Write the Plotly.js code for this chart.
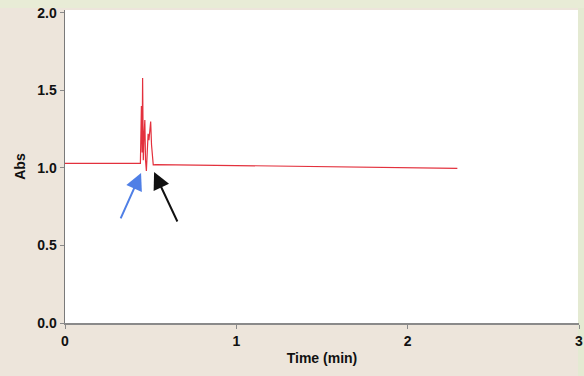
<!DOCTYPE html>
<html>
<head>
<meta charset="utf-8">
<script src="https://cdn.plot.ly/plotly-3.0.1.min.js"></script>
<style>html,body{margin:0;padding:0;background:#ede5db;}#chart{width:584px;height:376px;}</style>
</head>
<body>
<div id="chart"></div>
<script>
// Chromatogram: time (min) vs absorbance
const timeMin = [0.000, 0.300, 0.430, 0.440, 0.446, 0.450, 0.453, 0.457, 0.462, 0.466, 0.470, 0.475, 0.480, 0.485, 0.490, 0.495, 0.500, 0.505, 0.510, 0.515, 0.530, 0.800, 1.200, 1.600, 2.000, 2.290];
const absVals = [1.030, 1.028, 1.027, 1.030, 1.400, 1.100, 1.580, 1.050, 1.220, 1.310, 1.050, 0.980, 1.100, 1.220, 1.180, 1.280, 1.300, 1.150, 1.050, 1.020, 1.022, 1.018, 1.012, 1.006, 1.002, 0.998];

const xTicks = [0, 1, 2, 3];
const xTickLabels = ['0', '1', '2', '3'];
const yTicks = [0.0, 0.5, 1.0, 1.5, 2.0];
const yTickLabels = ['0.0', '0.5', '1.0', '1.5', '2.0'];

// arrows: [tipTime, tipAbs, tailTime, tailAbs]
const blueArrow = [0.444, 0.968, 0.321, 0.665];
const blackArrow = [0.520, 0.974, 0.660, 0.645];

const fam = 'Liberation Sans, Arial, sans-serif';
const bold = s => '<b>' + s + '</b>';

const trace = {
  x: timeMin, y: absVals, type: 'scatter', mode: 'lines',
  line: {color: '#e3313d', width: 1.2}, hoverinfo: 'skip'
};

function arrow(a, color) {
  return {
    x: a[0], y: a[1], xref: 'x', yref: 'y',
    ax: a[2], ay: a[3], axref: 'x', ayref: 'y',
    showarrow: true, arrowhead: 2, arrowsize: 1.7, arrowwidth: 2,
    arrowcolor: color, text: '', standoff: 0, startstandoff: 0
  };
}

const layout = {
  width: 584, height: 376,
  margin: {l: 65, r: 5, t: 10, b: 53},
  paper_bgcolor: '#ede5db', plot_bgcolor: '#ffffff',
  showlegend: false,
  font: {family: fam, size: 14, color: '#111'},
  xaxis: {
    range: [0, 3], tickvals: xTicks, ticktext: xTickLabels.map(bold),
    showgrid: false, zeroline: false, showline: true, linecolor: '#8a8a8a', linewidth: 2,
    ticks: 'outside', ticklen: 4, tickcolor: '#8a8a8a',
    tickfont: {family: fam, size: 14, color: '#111'},
    title: {text: bold('Time (min)'), font: {family: fam, size: 14, color: '#111'}, standoff: 5}
  },
  yaxis: {
    range: [0, 2.019], tickvals: yTicks, ticktext: yTickLabels.map(bold),
    showgrid: false, zeroline: false, showline: true, linecolor: '#7a7a7a', linewidth: 1.5,
    ticks: 'outside', ticklen: 4, tickcolor: '#8a8a8a',
    tickfont: {family: fam, size: 14, color: '#111'},
    title: {text: bold('Abs'), font: {family: fam, size: 14, color: '#111'}, standoff: 8}
  },
  shapes: [
    {type: 'rect', xref: 'paper', yref: 'paper', x0: -0.13, x1: 1.01, y0: 1.006, y1: 1.035,
     fillcolor: '#e8ecd6', line: {width: 0}, layer: 'above'},
    {type: 'rect', xref: 'paper', yref: 'paper', x0: 0.998, x1: 1.012, y0: -0.18, y1: 1.035,
     fillcolor: '#e4ead2', line: {width: 0}, layer: 'below'}
  ],
  annotations: [arrow(blueArrow, '#4f7fe6'), arrow(blackArrow, '#111111')]
};

Plotly.newPlot('chart', [trace], layout, {displayModeBar: false, staticPlot: true});
</script>
</body>
</html>
